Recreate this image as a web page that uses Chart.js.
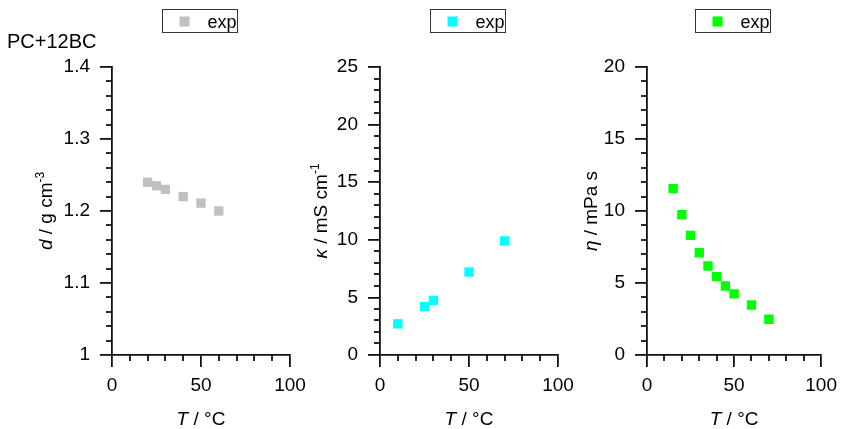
<!DOCTYPE html>
<html>
<head>
<meta charset="utf-8">
<script src="https://cdn.jsdelivr.net/npm/chart.js@4/dist/chart.umd.min.js"></script>
<style>
    body { margin: 0; background: #fff; }
    #wrap { position: relative; width: 844px; height: 429px; }
    #wrap canvas { position: absolute; left: 0; top: 0; }
</style>
</head>
<body>
<div id="wrap">
    <canvas id="chart-density" width="844" height="429"></canvas>
    <canvas id="chart-kappa" width="844" height="429"></canvas>
    <canvas id="chart-eta" width="844" height="429"></canvas>
</div>
<script>
// --- data ---
const tempDensity = [20, 25, 30, 40, 50, 60];
const density = [1.240, 1.235, 1.230, 1.220, 1.211, 1.200];

const tempKappa = [10, 25, 30, 50, 70];
const kappa = [2.7, 4.2, 4.75, 7.2, 9.9];

const tempEta = [15, 20, 25, 30, 35, 40, 45, 50, 60, 70];
const eta = [11.55, 9.74, 8.31, 7.1, 6.18, 5.44, 4.79, 4.24, 3.47, 2.48];

const tempTicks = [0, 50, 100];
const densityTicks = [1, 1.1, 1.2, 1.3, 1.4];
const kappaTicks = [0, 5, 10, 15, 20, 25];
const etaTicks = [0, 5, 10, 15, 20];

const seriesLabel = 'exp';
const heading = 'PC+12BC';

// --- layout / style ---
const FONT = '"Liberation Sans", Arial, sans-serif';
const AXIS = '#111';
const TOP = 67, BOTTOM = 355, W = 844, H = 429;
const Y_W = 60, X_H = 40;
const TICK_SIZE = 19, TITLE_SIZE = 19;

const decorations = {
    id: 'decorations',
    afterDraw(chart, args, opts) {
        const { ctx, chartArea: a, scales } = chart;
        ctx.save();

        // minor ticks (4 between majors)
        ctx.strokeStyle = AXIS;
        ctx.lineWidth = 1.8;
        const xs = scales.x, ys = scales.y;
        for (let k = 0; k <= 10; k++) {
            if (k % 5 === 0) continue;
            const px = Math.round(xs.getPixelForValue(xs.min + k * (xs.max - xs.min) / 10));
            ctx.beginPath(); ctx.moveTo(px, a.bottom); ctx.lineTo(px, a.bottom + 6); ctx.stroke();
        }
        const n = (ys.ticks.length - 1) * 5;
        for (let k = 0; k <= n; k++) {
            if (k % 5 === 0) continue;
            const py = Math.round(ys.getPixelForValue(ys.min + k * (ys.max - ys.min) / n));
            ctx.beginPath(); ctx.moveTo(a.left, py); ctx.lineTo(a.left - 6, py); ctx.stroke();
        }

        // legend box
        const ds = chart.data.datasets[0];
        const cx = (a.left + a.right) / 2;
        const bx = Math.round(cx - 39.5) + 0.5;
        ctx.lineWidth = 1;
        ctx.strokeStyle = '#333';
        ctx.strokeRect(bx, 9.5, 75, 23);
        ctx.fillStyle = ds.backgroundColor;
        ctx.fillRect(bx + 17, 16.5, 10, 10);
        ctx.fillStyle = '#000';
        ctx.font = '18px ' + FONT;
        ctx.textBaseline = 'alphabetic';
        ctx.textAlign = 'left';
        ctx.fillText(ds.label, bx + 45, 27.5);

        // heading
        if (opts.heading) {
            ctx.font = '20px ' + FONT;
            ctx.fillText(opts.heading, 7, 48);
        }

        // x title
        drawRich(ctx, opts.xTitle, cx, 425, TITLE_SIZE);

        // y title (rotated)
        ctx.translate(a.left - opts.yTitleOffset, (a.top + a.bottom) / 2);
        ctx.rotate(-Math.PI / 2);
        drawRich(ctx, opts.yTitle, 0, 0, TITLE_SIZE);
        ctx.restore();
    }
};

function drawRich(ctx, segs, x, y, size) {
    const fontOf = s => (s.italic ? 'italic ' : '') + (s.sup ? Math.round(size * 0.65) : size) + 'px ' + FONT;
    let total = 0;
    segs.forEach(s => { ctx.font = fontOf(s); total += ctx.measureText(s.text).width; });
    let cur = x - total / 2;
    ctx.textAlign = 'left';
    ctx.textBaseline = 'alphabetic';
    ctx.fillStyle = '#000';
    segs.forEach(s => {
        ctx.font = fontOf(s);
        ctx.fillText(s.text, cur, s.sup ? y - size * 0.42 : y);
        cur += ctx.measureText(s.text).width;
    });
}

const xTitle = [{ text: 'T', italic: true }, { text: ' / °C' }];

const panels = [
    {
        id: 'chart-density', left: 112, right: 290, xs: tempDensity, ys: density, color: '#c0c0c0',
        yTicks: densityTicks, yTitleOffset: 60, heading,
        yTitle: [{ text: 'd', italic: true }, { text: ' / g cm' }, { text: '-3', sup: true }]
    },
    {
        id: 'chart-kappa', left: 380, right: 558, xs: tempKappa, ys: kappa, color: '#00ffff',
        yTicks: kappaTicks, yTitleOffset: 53,
        yTitle: [{ text: 'κ', italic: true }, { text: ' / mS cm' }, { text: '-1', sup: true }]
    },
    {
        id: 'chart-eta', left: 647, right: 825, xs: tempEta, ys: eta, color: '#00ff00',
        yTicks: etaTicks, yTitleOffset: 50,
        yTitle: [{ text: 'η', italic: true }, { text: ' / mPa s' }]
    }
];

function axisStyle() {
    return {
        border: { display: true, color: AXIS, width: 1.8 },
        grid: { drawOnChartArea: false, drawTicks: true, tickLength: 12, tickColor: AXIS, tickWidth: 1.8, color: AXIS, lineWidth: 1.8 },
    };
}

panels.forEach(p => {
    new Chart(document.getElementById(p.id), {
        type: 'scatter',
        data: {
            datasets: [{
                label: seriesLabel,
                data: p.xs.map((t, i) => ({ x: t, y: p.ys[i] })),
                backgroundColor: p.color,
                borderColor: p.color,
                pointBackgroundColor: p.color,
                pointBorderWidth: 0,
                pointStyle: 'rect',
                pointRadius: 6.6,
                pointHoverRadius: 6.6,
            }]
        },
        options: {
            responsive: false,
            animation: false,
            devicePixelRatio: 1,
            events: [],
            layout: { padding: { left: p.left - Y_W, right: W - p.right, top: TOP, bottom: H - BOTTOM - X_H } },
            plugins: {
                legend: { display: false },
                tooltip: { enabled: false },
                decorations: { heading: p.heading, xTitle, yTitle: p.yTitle, yTitleOffset: p.yTitleOffset }
            },
            scales: {
                x: {
                    type: 'linear', position: 'bottom',
                    min: tempTicks[0], max: tempTicks[tempTicks.length - 1],
                    afterBuildTicks: s => { s.ticks = tempTicks.map(v => ({ value: v })); },
                    afterFit: s => { s.height = X_H; },
                    ...axisStyle(),
                    ticks: { color: '#000', font: { family: FONT, size: TICK_SIZE }, padding: 7, maxRotation: 0, autoSkip: false, callback: v => String(v) }
                },
                y: {
                    type: 'linear', position: 'left',
                    min: p.yTicks[0], max: p.yTicks[p.yTicks.length - 1],
                    afterBuildTicks: s => { s.ticks = p.yTicks.map(v => ({ value: v })); },
                    afterFit: s => { s.width = Y_W; },
                    ...axisStyle(),
                    ticks: { color: '#000', font: { family: FONT, size: TICK_SIZE }, padding: 10, autoSkip: false, callback: v => String(v) }
                }
            }
        },
        plugins: [decorations]
    });
});
</script>
</body>
</html>
